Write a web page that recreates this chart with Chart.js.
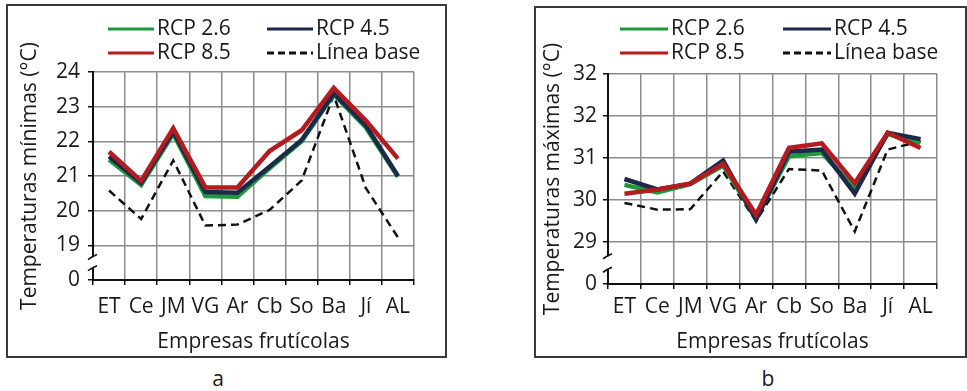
<!DOCTYPE html>
<html>
<head>
<meta charset="utf-8">
<script src="https://cdn.jsdelivr.net/npm/chart.js@4.4.1/dist/chart.umd.min.js"></script>
<style>
  html, body { margin: 0; padding: 0; background: #fff; }
  body { width: 967px; height: 391px; position: relative; overflow: hidden; font-family: "Open Sans", sans-serif; }
  .panel { position: absolute; box-sizing: border-box; border: 2px solid #3a3a3a; background: #fff; }
  .panel canvas { position: absolute; left: 0; top: 0; }
  .tag { position: absolute; width: 40px; text-align: center; font-size: 21px; line-height: 26px; color: #1a1a1a; }
</style>
</head>
<body>
<div class="panel" id="pa" style="left:6px; top:4px; width:441px; height:354px;"><canvas id="ca" width="437" height="350"></canvas></div>
<div class="panel" id="pb" style="left:534px; top:6px; width:433px; height:352px;"><canvas id="cb" width="429" height="348"></canvas></div>
<div class="tag" style="left:198px; top:365px;">a</div>
<div class="tag" style="left:748px; top:365px;">b</div>
<script>
// ---------- data ----------
const categories = ['ET', 'Ce', 'JM', 'VG', 'Ar', 'Cb', 'So', 'Ba', 'Jí', 'AL'];
const seriesLabels = ['RCP 2.6', 'RCP 4.5', 'RCP 8.5', 'Línea base'];

// Panel a: temperaturas mínimas
const rcp26Min = [21.47, 20.74, 22.22, 20.42, 20.40, 21.22, 22.00, 23.35, 22.40, 20.98];
const rcp45Min = [21.56, 20.80, 22.28, 20.54, 20.52, 21.27, 22.04, 23.38, 22.46, 21.00];
const rcp85Min = [21.70, 20.86, 22.38, 20.67, 20.67, 21.72, 22.32, 23.54, 22.60, 21.50];
const baseMin  = [20.58, 19.76, 21.45, 19.57, 19.60, 20.02, 20.87, 23.33, 20.65, 19.23];
const yTicksMin = ['0', '19', '20', '21', '22', '23', '24'];

// Panel b: temperaturas máximas
const rcp26Max = [30.36, 30.18, 30.38, 30.82, 29.57, 31.04, 31.12, 30.28, 31.57, 31.36];
const rcp45Max = [30.50, 30.25, 30.39, 30.94, 29.53, 31.15, 31.20, 30.15, 31.60, 31.45];
const rcp85Max = [30.15, 30.25, 30.39, 30.86, 29.65, 31.24, 31.35, 30.40, 31.60, 31.24];
const baseMax  = [29.93, 29.77, 29.78, 30.68, 29.50, 30.74, 30.70, 29.25, 31.20, 31.40];
const yTicksMax = ['0', '29', '30', '31', '32', '32'];

// ---------- styling ----------
const COLORS = ['#1E9A3C', '#1B2A4A', '#B51A1E', '#111111'];
const TEXT = '#1a1a1a';
const FONT = '"Open Sans", sans-serif';

const legendPlugin = {
  id: 'boxLegend',
  afterDraw(chart, args, o) {
    const ctx = chart.ctx;
    ctx.save();
    ctx.font = o.fontSize + 'px ' + FONT;
    ctx.textBaseline = 'middle';
    ctx.textAlign = 'left';
    chart.data.datasets.forEach((ds, k) => {
      const col = k % 2, row = Math.floor(k / 2);
      const x0 = o.cols[col], x1 = x0 + o.lineLen, y = o.rows[row];
      ctx.strokeStyle = ds.borderColor;
      ctx.lineWidth = o.lineWidth;
      ctx.setLineDash(ds.borderDash ? o.dash : []);
      ctx.beginPath(); ctx.moveTo(x0, y); ctx.lineTo(x1, y); ctx.stroke();
      ctx.setLineDash([]);
      ctx.fillStyle = TEXT;
      ctx.fillText(ds.label, x1 + o.gap, y);
    });
    ctx.restore();
  }
};

const breakPlugin = {
  id: 'axisBreak',
  afterDraw(chart, args, o) {
    const ys = chart.scales.y, ctx = chart.ctx;
    const x = chart.chartArea.left;
    const yHi = ys.getPixelForValue(o.lo + 0.66);
    const yLo = ys.getPixelForValue(o.lo + 0.34);
    ctx.save();
    ctx.fillStyle = '#fff';
    ctx.fillRect(x - 2.5, yHi, 4, yLo - yHi);
    ctx.strokeStyle = '#111';
    ctx.lineWidth = 1.6;
    [yHi, yLo].forEach(y => {
      ctx.beginPath();
      ctx.moveTo(x - 5, y + 2.5);
      ctx.quadraticCurveTo(x, y - 1, x + 4, y - 2.5);
      ctx.stroke();
    });
    ctx.restore();
  }
};

function makeChart(canvasId, cfg) {
  const datasets = [cfg.s26, cfg.s45, cfg.s85, cfg.base].map((d, i) => ({
    label: seriesLabels[i],
    data: d,
    borderColor: COLORS[i],
    backgroundColor: COLORS[i],
    borderWidth: i === 3 ? 2.5 : 4.5,
    borderDash: i === 3 ? [8, 5] : undefined,
    borderJoinStyle: 'miter',
    pointRadius: 0,
    tension: 0,
    fill: false,
    order: [3, 2, 1, 4][i]
  }));
  return new Chart(document.getElementById(canvasId), {
    type: 'line',
    data: { labels: categories, datasets },
    plugins: [legendPlugin, breakPlugin],
    options: {
      responsive: false,
      animation: false,
      devicePixelRatio: 1,
      layout: { padding: cfg.padding },
      plugins: {
        legend: { display: false },
        tooltip: { enabled: false },
        boxLegend: cfg.legend,
        axisBreak: { lo: cfg.yMin }
      },
      scales: {
        x: {
          type: 'category',
          offset: true,
          grid: { offset: true, color: '#8c8c8c', lineWidth: 1.5, tickColor: '#111', tickLength: 5, tickWidth: 1.5 },
          border: { color: '#111', width: 2 },
          ticks: { color: TEXT, font: { family: FONT, size: 21 }, autoSkip: false, maxRotation: 0, padding: cfg.xTickPad },
          title: { display: true, text: 'Empresas frutícolas', color: TEXT, font: { family: FONT, size: 21 }, padding: { top: 0, bottom: 1 } },
          afterFit: s => { s.height = cfg.xHeight; }
        },
        y: {
          min: cfg.yMin, max: cfg.yMax,
          grid: { color: '#8c8c8c', lineWidth: 1.5, tickColor: '#111', tickLength: 5, tickWidth: 1.5 },
          border: { color: '#111', width: 2 },
          ticks: { stepSize: 1, color: TEXT, font: { family: FONT, size: 21 }, padding: cfg.yTickPad,
                   callback: (v, i) => cfg.yTicks[i] },
          title: { display: true, text: cfg.yTitle, color: TEXT, font: { family: FONT, size: 21 }, padding: { top: cfg.yTitlePad, bottom: 0 } },
          afterFit: s => { s.width = cfg.yWidth; }
        }
      }
    }
  });
}

function draw() {
  makeChart('ca', {
    s26: rcp26Min, s45: rcp45Min, s85: rcp85Min, base: baseMin,
    yMin: 18, yMax: 24, yTicks: yTicksMin,
    yTitle: 'Temperaturas mínimas (°C)',
    padding: { top: 66, right: 31, left: 0, bottom: 0 },
    yWidth: 85, xHeight: 76, xTickPad: 9, yTickPad: 8, yTitlePad: 9,
    legend: { cols: [100, 259], rows: [23, 47], lineLen: 46, gap: 3, lineWidth: 3, dash: [7, 4], fontSize: 21 }
  });
  makeChart('cb', {
    s26: rcp26Max, s45: rcp45Max, s85: rcp85Max, base: baseMax,
    yMin: 28, yMax: 33, yTicks: yTicksMax,
    yTitle: 'Temperaturas máximas (°C)',
    padding: { top: 66, right: 28, left: 0, bottom: 0 },
    yWidth: 72, xHeight: 72, xTickPad: 5, yTickPad: 6, yTitlePad: 4,
    legend: { cols: [84, 247], rows: [21, 45], lineLen: 48, gap: 3, lineWidth: 3, dash: [7, 4], fontSize: 21 }
  });
}

if (document.fonts && document.fonts.load) {
  Promise.all([document.fonts.load('21px "Open Sans"'), document.fonts.load('20px "Open Sans"')])
    .then(draw, draw);
} else { draw(); }
</script>
</body>
</html>
